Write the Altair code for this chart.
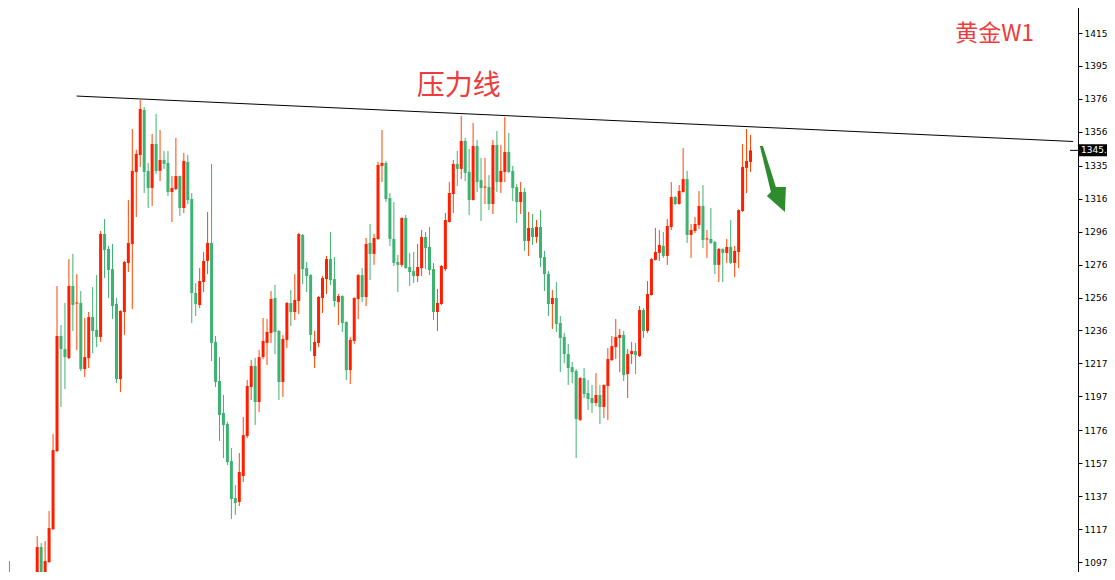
import altair as alt
import pandas as pd

# ---- weekly gold candles ----
opens = [1090.0, 1090.5, 1078.0, 1068.0, 1083.0, 1071.0, 1064.0, 1061.0, 1075.0, 1106.7,
         1089.9, 1097.7, 1117.5, 1164.4, 1233.6, 1225.7, 1220.3, 1263.6, 1253.1, 1253.4,
         1213.7, 1220.3, 1245.0, 1237.2, 1233.0, 1294.9, 1285.9, 1273.8, 1252.8, 1207.7,
         1248.0, 1277.5, 1288.9, 1332.2, 1342.4, 1369.4, 1332.8, 1322.5, 1349.0, 1332.8,
         1339.4, 1337.6, 1320.1, 1321.9, 1329.7, 1310.5, 1338.2, 1315.9, 1259.4, 1252.2,
         1266.0, 1278.7, 1289.5, 1230.0, 1206.5, 1187.3, 1180.7, 1158.4, 1136.2, 1133.8,
         1149.4, 1173.4, 1202.9, 1215.5, 1193.9, 1220.9, 1229.4, 1235.4, 1256.4, 1236.6,
         1205.9, 1231.2, 1253.4, 1248.0, 1254.6, 1294.3, 1274.4, 1270.2, 1221.5, 1229.4,
         1256.4, 1267.8, 1279.8, 1267.8, 1254.0, 1257.6, 1242.0, 1213.1, 1230.6, 1255.8,
         1270.2, 1257.0, 1289.5, 1282.9, 1291.9, 1335.8, 1337.6, 1316.5, 1291.9, 1278.1,
         1276.3, 1304.5, 1275.0, 1272.6, 1269.6, 1274.4, 1293.1, 1287.1, 1273.8, 1248.0,
         1252.8, 1273.8, 1302.1, 1318.9, 1337.0, 1334.0, 1350.8, 1332.2, 1315.3, 1347.8,
         1327.3, 1322.8, 1323.1, 1312.9, 1348.4, 1326.1, 1332.2, 1344.2, 1332.8, 1323.1,
         1314.1, 1320.1, 1290.7, 1298.5, 1293.1, 1299.1, 1281.1, 1270.8, 1252.8, 1256.4,
         1241.4, 1233.0, 1222.7, 1214.9, 1212.5, 1183.1, 1208.3, 1199.3, 1196.3, 1193.3,
         1198.1, 1190.9, 1203.5, 1219.1, 1226.9, 1232.4, 1234.2, 1210.7, 1222.7, 1224.5,
         1221.5, 1249.2, 1236.6, 1258.2, 1279.3, 1283.5, 1287.7, 1281.7, 1299.1, 1317.1,
         1312.9, 1320.1, 1327.9, 1294.3, 1296.7, 1300.3, 1311.7, 1291.6, 1291.9, 1290.1,
         1276.3, 1285.9, 1283.5, 1287.1, 1277.5, 1284.1, 1308.7, 1334.6, 1338.2]
highs = [1097.1, 1098.3, 1085.0, 1089.3, 1087.5, 1079.0, 1072.0, 1078.0, 1113.3, 1109.1,
         1110.3, 1128.4, 1174.7, 1263.6, 1240.2, 1253.4, 1279.8, 1282.9, 1270.8, 1260.6,
         1244.4, 1248.0, 1263.0, 1270.2, 1296.7, 1303.9, 1287.7, 1288.9, 1256.4, 1249.0,
         1278.7, 1315.3, 1358.0, 1345.4, 1375.4, 1371.2, 1337.6, 1355.0, 1367.0, 1357.4,
         1344.8, 1344.8, 1329.7, 1352.6, 1330.0, 1343.6, 1342.4, 1319.5, 1265.4, 1274.4,
         1284.1, 1308.1, 1337.0, 1233.6, 1220.9, 1198.1, 1181.9, 1166.2, 1144.0, 1163.2,
         1184.9, 1207.1, 1219.1, 1220.3, 1225.1, 1244.4, 1243.8, 1260.6, 1264.2, 1237.2,
         1234.2, 1254.0, 1261.2, 1270.8, 1295.5, 1294.9, 1278.1, 1270.8, 1236.6, 1257.6,
         1269.6, 1281.7, 1296.1, 1281.1, 1258.8, 1258.0, 1242.4, 1233.0, 1256.8, 1270.8,
         1274.4, 1292.5, 1300.9, 1294.9, 1338.2, 1357.4, 1338.8, 1319.5, 1314.1, 1282.3,
         1304.9, 1306.3, 1283.5, 1284.1, 1288.9, 1297.3, 1296.1, 1299.1, 1277.5, 1261.8,
         1276.3, 1307.5, 1326.1, 1339.4, 1344.8, 1365.8, 1352.6, 1346.0, 1361.6, 1351.4,
         1340.6, 1340.6, 1330.3, 1351.4, 1356.8, 1348.4, 1365.2, 1355.6, 1335.8, 1324.9,
         1326.1, 1322.5, 1308.1, 1306.9, 1303.3, 1309.3, 1284.7, 1272.6, 1261.2, 1266.0,
         1245.6, 1235.4, 1228.8, 1217.9, 1213.7, 1208.9, 1214.3, 1207.1, 1204.1, 1211.3,
         1204.1, 1204.5, 1226.3, 1233.6, 1243.8, 1237.8, 1236.6, 1225.7, 1230.0, 1229.4,
         1251.6, 1250.4, 1266.6, 1280.5, 1298.5, 1297.3, 1296.1, 1303.9, 1326.1, 1317.7,
         1324.3, 1346.6, 1332.8, 1300.9, 1305.1, 1320.7, 1324.3, 1297.3, 1310.5, 1290.7,
         1286.5, 1286.2, 1291.9, 1303.3, 1287.7, 1309.6, 1349.0, 1358.0, 1354.4]
lows = [1080.0, 1075.0, 1064.0, 1063.0, 1066.0, 1060.0, 1046.0, 1056.0, 1071.0, 1084.0,
        1086.5, 1097.1, 1116.9, 1163.8, 1190.9, 1201.7, 1219.7, 1236.6, 1225.1, 1212.5,
        1208.9, 1214.3, 1223.3, 1226.9, 1230.0, 1268.4, 1256.4, 1243.8, 1205.3, 1199.9,
        1234.2, 1272.0, 1249.8, 1305.1, 1335.2, 1319.5, 1310.5, 1311.7, 1331.0, 1326.7,
        1334.0, 1317.7, 1302.1, 1321.3, 1305.7, 1307.5, 1312.9, 1241.4, 1245.6, 1250.4,
        1260.0, 1270.8, 1218.5, 1202.9, 1170.4, 1160.2, 1156.0, 1123.6, 1126.0, 1131.4,
        1145.8, 1172.2, 1195.1, 1180.1, 1187.9, 1219.7, 1216.1, 1229.4, 1222.7, 1195.1,
        1196.9, 1226.3, 1239.6, 1243.2, 1246.8, 1264.8, 1260.0, 1224.5, 1214.3, 1226.9,
        1247.4, 1258.8, 1264.2, 1251.0, 1240.2, 1236.0, 1207.1, 1204.7, 1228.8, 1243.8,
        1254.0, 1251.6, 1267.2, 1276.3, 1291.3, 1326.1, 1314.1, 1287.7, 1275.6, 1260.0,
        1275.0, 1274.0, 1263.6, 1265.4, 1266.0, 1269.6, 1273.8, 1270.2, 1243.2, 1236.6,
        1252.2, 1272.6, 1301.8, 1307.5, 1323.7, 1327.9, 1326.7, 1306.3, 1315.0, 1320.1,
        1302.7, 1312.9, 1309.3, 1306.9, 1320.1, 1319.5, 1326.1, 1331.6, 1314.7, 1301.5,
        1306.9, 1284.7, 1281.7, 1288.3, 1289.5, 1275.0, 1260.6, 1245.6, 1237.8, 1236.0,
        1211.9, 1217.3, 1204.1, 1205.3, 1160.2, 1182.5, 1196.3, 1189.1, 1187.3, 1191.5,
        1180.7, 1184.3, 1183.1, 1218.5, 1219.7, 1211.9, 1206.5, 1196.3, 1216.7, 1210.7,
        1220.9, 1232.4, 1235.4, 1257.8, 1279.0, 1278.7, 1280.5, 1276.3, 1297.3, 1312.3,
        1312.5, 1319.8, 1289.5, 1280.5, 1295.5, 1297.9, 1286.5, 1280.5, 1288.9, 1270.8,
        1266.0, 1266.0, 1277.5, 1276.9, 1269.0, 1274.4, 1308.1, 1319.5, 1332.2]
closes = [1083.0, 1078.0, 1068.0, 1083.0, 1071.0, 1064.0, 1061.0, 1075.0, 1106.7, 1089.9,
          1098.3, 1118.1, 1165.0, 1233.6, 1225.7, 1220.9, 1263.6, 1252.2, 1253.7, 1213.7,
          1220.9, 1245.0, 1236.6, 1233.0, 1294.9, 1285.3, 1273.2, 1251.6, 1207.7, 1248.6,
          1278.1, 1289.5, 1332.8, 1343.0, 1370.0, 1332.2, 1322.5, 1349.0, 1332.8, 1339.4,
          1337.0, 1320.1, 1322.5, 1329.7, 1310.5, 1338.8, 1315.3, 1259.4, 1252.8, 1266.6,
          1278.7, 1289.5, 1229.4, 1205.9, 1186.1, 1180.1, 1157.8, 1135.6, 1133.2, 1151.8,
          1174.0, 1203.5, 1215.5, 1193.9, 1220.9, 1230.6, 1236.0, 1255.8, 1236.0, 1205.9,
          1231.8, 1253.4, 1248.0, 1255.2, 1294.9, 1273.8, 1269.6, 1234.2, 1230.0, 1257.0,
          1268.4, 1279.8, 1267.2, 1254.6, 1257.6, 1241.4, 1213.1, 1231.2, 1256.4, 1270.2,
          1257.0, 1288.9, 1282.9, 1292.5, 1336.4, 1337.6, 1315.9, 1291.9, 1277.5, 1276.3,
          1304.5, 1274.4, 1272.0, 1269.6, 1275.0, 1293.1, 1286.5, 1273.2, 1248.0, 1253.4,
          1275.6, 1303.3, 1319.5, 1337.0, 1334.0, 1350.8, 1331.6, 1315.3, 1347.8, 1326.1,
          1322.5, 1323.4, 1312.9, 1348.4, 1326.1, 1332.8, 1344.2, 1332.2, 1322.5, 1314.1,
          1320.1, 1290.7, 1298.5, 1293.1, 1299.1, 1280.5, 1270.8, 1252.8, 1256.4, 1240.8,
          1232.4, 1222.7, 1214.3, 1211.9, 1183.7, 1208.3, 1198.7, 1195.7, 1193.3, 1198.1,
          1190.9, 1204.1, 1219.7, 1227.5, 1233.0, 1234.2, 1210.1, 1222.7, 1224.5, 1222.1,
          1249.2, 1236.6, 1258.8, 1279.8, 1284.1, 1288.3, 1281.7, 1299.7, 1317.1, 1312.9,
          1320.7, 1327.9, 1294.3, 1297.3, 1300.9, 1311.7, 1291.3, 1292.2, 1289.5, 1276.3,
          1285.9, 1283.5, 1287.1, 1277.5, 1284.7, 1309.3, 1335.2, 1338.8, 1345.16]

# axis ticks (MT4 style price grid)
y_ticks = [1097.7, 1117.5, 1137.3, 1157.1, 1176.9, 1197.3, 1217.1, 1236.9, 1256.7,
           1276.5, 1296.3, 1316.1, 1335.9, 1356.3, 1376.1, 1395.9, 1415.7, 1435.5]

# resistance line (压力线) end points: bar index / price
trend_idx = [17.95, 269.4]
trend_price = [1377.8, 1350.5]

# annotations
label_text = ["压力线", "黄金W1"]
label_idx = [114.4, 249.6]
label_price = [1383.2, 1415.4]
label_size = [28, 23]

arrow_idx = [193.9]
arrow_price = [1327.3]

last_price = [1345.16]

df = pd.DataFrame({"i": list(range(len(opens))), "o": opens, "h": highs,
                   "l": lows, "c": closes})
trend_df = pd.DataFrame({"i": trend_idx, "p": trend_price})
lab_df = pd.DataFrame({"t": label_text, "i": label_idx, "p": label_price, "s": label_size})
arrow_df = pd.DataFrame({"i": arrow_idx, "p": arrow_price})
last_df = pd.DataFrame({"p": last_price, "t": ["%.2f" % v for v in last_price]})

xs = alt.Scale(domain=[-0.125, 269.375], nice=False, zero=False)
ys = alt.Scale(domain=[1086.9, 1435.54], nice=False, zero=False)

yax = alt.Axis(orient="right", values=y_ticks, format=".2f", grid=False, title=None,
               domainColor="black", domainWidth=1, tickColor="black", tickSize=4,
               tickWidth=1, labelColor="black", labelFont="DejaVu Sans", labelFontSize=9,
               labelPadding=2, labelFlush=False, labelOverlap=False, labelBound=False)

X = alt.X("i:Q", scale=xs, axis=None)
up = "datum.c >= datum.o"

base = alt.Chart(df)
wick = base.mark_rule(strokeWidth=1, clip=True).encode(
    x=X,
    y=alt.Y("l:Q", scale=ys, axis=yax),
    y2="h:Q",
    color=alt.condition(up, alt.value("#FF4500"), alt.value("#3CB371")),
)
body = base.mark_bar(size=3, clip=True).encode(
    x=X,
    y=alt.Y("o:Q", scale=ys, axis=yax),
    y2="c:Q",
    color=alt.condition(up, alt.value("#FF1E00"), alt.value("#3CB371")),
)

trend = alt.Chart(trend_df).mark_line(color="black", strokeWidth=1, clip=True).encode(
    x=alt.X("i:Q", scale=xs, axis=None),
    y=alt.Y("p:Q", scale=ys, axis=yax),
)

labels = alt.Chart(lab_df).mark_text(font="Noto Sans CJK SC", color="#EE3B3B",
                                     align="center", baseline="middle").encode(
    x=alt.X("i:Q", scale=xs, axis=None),
    y=alt.Y("p:Q", scale=ys, axis=yax),
    text="t:N",
    size=alt.Size("s:Q", scale=None, legend=None),
)

arrow_path = ("M-0.4,-0.971 L-0.314,-0.971 L0.057,0.2 L0.343,0.2 L0.314,0.914 "
              "L-0.2,0.457 L-0.086,0.343 Z")
arrow = alt.Chart(arrow_df).mark_point(shape=arrow_path, filled=True, size=4900,
                                       color="#2E8B2E", opacity=1, strokeWidth=0).encode(
    x=alt.X("i:Q", scale=xs, axis=None),
    y=alt.Y("p:Q", scale=ys, axis=yax),
)

price_line = alt.Chart(last_df).mark_rule(color="black", strokeWidth=1).encode(
    x=alt.value(1070), x2=alt.value(1078),
    y=alt.Y("p:Q", scale=ys, axis=yax),
)
price_box = alt.Chart(last_df).mark_tick(orient="horizontal", color="black",
                                         thickness=12, size=44, opacity=1).encode(
    x=alt.value(1101),
    y=alt.Y("p:Q", scale=ys, axis=yax),
)
price_txt = alt.Chart(last_df).mark_text(color="white", font="DejaVu Sans", fontSize=9,
                                         align="left", baseline="middle").encode(
    x=alt.value(1081),
    y=alt.Y("p:Q", scale=ys, axis=yax),
    text="t:N",
)

chart = alt.layer(wick, body, trend, labels, arrow, price_line, price_box, price_txt).properties(
    width=1078, height=580,
    autosize=alt.AutoSizeParams(type="none"),
    padding={"left": -8, "top": -8, "right": 29, "bottom": -8},
    background="white",
).configure_view(strokeWidth=0)

chart.save("out.html", embed_options={"renderer": "svg", "actions": False})
